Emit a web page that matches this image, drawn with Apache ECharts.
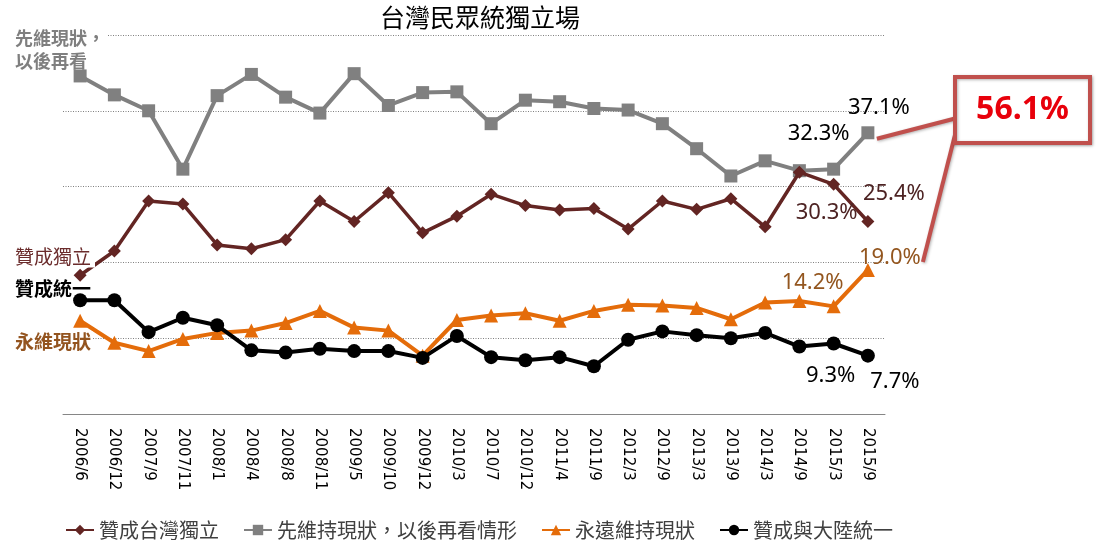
<!DOCTYPE html>
<html>
<head>
<meta charset="utf-8">
<script src="https://cdn.jsdelivr.net/npm/echarts@6/dist/echarts.min.js"></script>
<style>
html,body{margin:0;padding:0;background:#fff;}
#chart{width:1097px;height:551px;}
</style>
</head>
<body>
<div id="chart"></div>
<script>
const categories = ['2006/6','2006/12','2007/9','2007/11','2008/1','2008/4','2008/8','2008/11','2009/5','2009/10','2009/12','2010/3','2010/7','2010/12','2011/4','2011/9','2012/3','2012/9','2013/3','2013/9','2014/3','2014/9','2015/3','2015/9'];
const independence = [18.3,21.5,28.1,27.7,22.3,21.8,23.0,28.1,25.4,29.2,23.9,26.1,29.0,27.5,26.9,27.1,24.4,28.1,27.0,28.4,24.7,31.9,30.3,25.4];
const statusQuoLater = [44.6,42.1,40.0,32.3,42.0,44.8,41.8,39.7,44.9,40.7,42.4,42.5,38.3,41.4,41.2,40.3,40.1,38.3,35.0,31.4,33.4,32.1,32.3,37.1];
const statusQuoForever = [12.3,9.4,8.3,9.9,10.7,11.0,12.0,13.6,11.4,11.0,7.7,12.4,13.0,13.3,12.3,13.6,14.4,14.3,14.0,12.5,14.7,14.9,14.2,19.0];
const unification = [15.0,15.0,10.8,12.7,11.7,8.4,8.1,8.6,8.3,8.3,7.4,10.3,7.5,7.1,7.5,6.3,9.8,10.9,10.4,10.0,10.7,8.9,9.3,7.7];
const seriesNames = ['贊成台灣獨立','先維持現狀，以後再看情形','永遠維持現狀','贊成與大陸統一'];
const callout = '56.1%';

const labelFont = '"Noto Sans", "Open Sans", sans-serif';
const cjk = '"Noto Sans CJK TC", "Noto Sans CJK SC", sans-serif';

function withLabels(values, color, offsets) {
  return values.map((v, i) => {
    const off = offsets[i];
    if (!off) return v;
    return {
      value: v,
      label: {
        show: true,
        position: 'inside',
        offset: off,
        formatter: v.toFixed(1) + '%',
        color: color,
        fontSize: 22,
        fontFamily: labelFont
      }
    };
  });
}
const last = categories.length - 1;
const prev = last - 1;

const chart = echarts.init(document.getElementById('chart'), null, {renderer: 'canvas'});
const option = {
  animation: false,
  backgroundColor: '#ffffff',
  title: {
    text: '台灣民眾統獨立場',
    left: 475, top: 0, textAlign: 'center',
    textStyle: {fontFamily: cjk, fontSize: 25, fontWeight: 'normal', color: '#000'}
  },
  grid: {left: 63, right: 212, top: 35, bottom: 137},
  legend: {
    left: 60, top: 515, itemGap: 24, itemWidth: 28, itemHeight: 13,
    textStyle: {fontFamily: cjk, fontSize: 20, color: '#404040'},
    data: seriesNames
  },
  xAxis: {
    type: 'category', data: categories, boundaryGap: true,
    axisLine: {lineStyle: {color: '#868686', width: 1}},
    axisTick: {inside: true, length: 6, lineStyle: {color: '#868686'}},
    axisLabel: {rotate: -90, margin: 14, fontFamily: '"DejaVu Sans", sans-serif', fontSize: 15, color: '#000', interval: 0}
  },
  yAxis: {
    type: 'value', min: 0, max: 50, interval: 10,
    axisLine: {show: false}, axisTick: {show: false}, axisLabel: {show: false},
    splitLine: {lineStyle: {color: '#808080', type: [1, 1.5], width: 1}}
  },
  series: [
    {
      name: seriesNames[0], type: 'line', data: withLabels(independence, '#4d2323', {[prev]: [-7, 28], [last]: [26, -28]}),
      symbol: 'diamond', symbolSize: 13, itemStyle: {color: '#632523'},
      lineStyle: {color: '#632523', width: 3.5}, z: 3
    },
    {
      name: seriesNames[1], type: 'line', data: withLabels(statusQuoLater, '#000', {[prev]: [-15, -35], [last]: [11, -25]}),
      symbol: 'rect', symbolSize: 13, itemStyle: {color: '#808080'},
      lineStyle: {color: '#808080', width: 4}, z: 2
    },
    {
      name: seriesNames[2], type: 'line', data: withLabels(statusQuoForever, '#93561f', {[prev]: [-21, -24], [last]: [22, -12]}),
      symbol: 'triangle', symbolSize: 14, itemStyle: {color: '#e46c0a'},
      lineStyle: {color: '#e46c0a', width: 4}, z: 2
    },
    {
      name: seriesNames[3], type: 'line', data: withLabels(unification, '#000', {[prev]: [-3, 32], [last]: [27, 26]}),
      symbol: 'circle', symbolSize: 14, itemStyle: {color: '#000'},
      lineStyle: {color: '#000', width: 4}, z: 4
    }
  ]
};
chart.setOption(option);

const gLast = chart.convertToPixel({seriesIndex: 1}, [last, statusQuoLater[last]]);
const oLast = chart.convertToPixel({seriesIndex: 2}, [last, statusQuoForever[last]]);
const boxX = 955, boxY = 77, boxW = 135, boxH = 66;
const lineStyle = {stroke: '#c0504d', lineWidth: 4, shadowBlur: 3, shadowColor: 'rgba(0,0,0,0.3)', shadowOffsetX: 1, shadowOffsetY: 1};
chart.setOption({
  graphic: [
    {type: 'line', shape: {x1: gLast[0] + 9, y1: gLast[1] + 6, x2: boxX + 2, y2: boxY + 41}, style: lineStyle, z: 10},
    {type: 'line', shape: {x1: boxX + 2, y1: boxY + 50, x2: oLast[0] + 55, y2: oLast[1] - 8}, style: lineStyle, z: 10},
    {type: 'rect', shape: {x: boxX, y: boxY, width: boxW, height: boxH}, style: {fill: '#fff', stroke: '#c0504d', lineWidth: 4, shadowBlur: 3, shadowColor: 'rgba(0,0,0,0.3)', shadowOffsetX: 1, shadowOffsetY: 1}, z: 11},
    {type: 'text', x: boxX + boxW / 2, y: boxY + boxH / 2, style: {text: callout, fill: '#e8000b', font: 'bold 32px "Noto Sans", "Open Sans", sans-serif', align: 'center', verticalAlign: 'middle'}, z: 12},
    {type: 'text', x: 15, y: 38, style: {text: '先維現狀，', fill: '#7f7f7f', font: 'bold 18px ' + cjk, verticalAlign: 'middle', backgroundColor: '#fff', padding: [0, 2, 0, 0]}, z: 12},
    {type: 'text', x: 15, y: 61, style: {text: '以後再看', fill: '#7f7f7f', font: 'bold 18px ' + cjk, verticalAlign: 'middle'}, z: 12},
    {type: 'text', x: 15, y: 257, style: {text: '贊成獨立', fill: '#6b2c2c', font: '19px ' + cjk, verticalAlign: 'middle', backgroundColor: '#fff', padding: [1, 4, 1, 0]}, z: 12},
    {type: 'text', x: 15, y: 289, style: {text: '贊成統一', fill: '#000', font: 'bold 19px ' + cjk, verticalAlign: 'middle'}, z: 12},
    {type: 'text', x: 15, y: 342, style: {text: '永維現狀', fill: '#93541f', font: 'bold 19px ' + cjk, verticalAlign: 'middle', backgroundColor: '#fff', padding: [1, 2, 1, 0]}, z: 12}
  ]
});
</script>
</body>
</html>
